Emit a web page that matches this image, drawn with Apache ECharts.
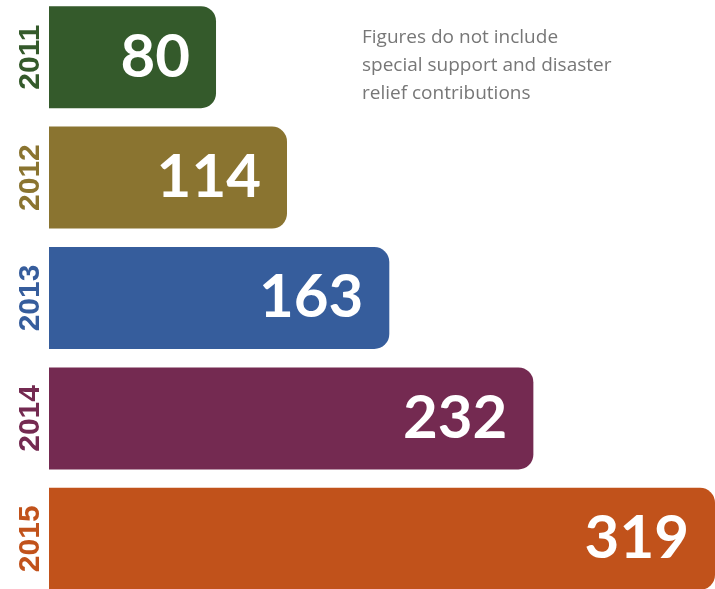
<!DOCTYPE html>
<html>
<head>
<meta charset="utf-8">
<script src="https://cdn.jsdelivr.net/npm/echarts@6/dist/echarts.min.js"></script>
<style>
  html, body { margin: 0; padding: 0; background: #fff; }
  #chart { width: 715px; height: 589px; }
</style>
</head>
<body>
<div id="chart"></div>
<script>
// years and contributions
var years = ['2011', '2012', '2013', '2014', '2015'];
var amounts = [80, 114, 163, 232, 319];
var colors = ['#345a2b', '#8a7430', '#365d9c', '#742a51', '#c1521b'];
var note = 'Figures do not include\nspecial support and disaster\nrelief contributions';

var myChart = echarts.init(document.getElementById('chart'));

var option = {
	backgroundColor : '#ffffff',
	animation : false,
	title : {
		text : note,
		left : 362,
		top : 24,
		padding : 0,
		textStyle : {
			fontFamily : 'Open Sans',
			fontSize : 19,
			fontWeight : 'normal',
			lineHeight : 28,
			color : '#777777'
		}
	},
	grid : {
		left : 49,
		right : 0,
		top : -3,
		bottom : -10,
		outerBoundsMode : 'none'
	},
	xAxis : {
		type : 'value',
		min : 0,
		max : 319,
		show : false
	},
	yAxis : {
		type : 'category',
		data : years,
		inverse : true,
		axisLine : { show : false },
		axisTick : { show : false },
		axisLabel : {
			rotate : 90,
			margin : 3,
			fontFamily : 'Liberation Sans',
			fontWeight : 'bold',
			fontSize : 30,
			color : function(value, index) {
				return colors[index];
			}
		}
	},
	series : [ {
		type : 'bar',
		data : amounts.map(function(v, i) {
			return {
				value : v,
				itemStyle : { color : colors[i] }
			};
		}),
		barWidth : 102,
		itemStyle : {
			borderRadius : [ 0, 15, 15, 0 ]
		},
		label : {
			show : true,
			position : 'insideRight',
			distance : 26,
			color : '#ffffff',
			fontFamily : 'Lato',
			fontWeight : 'bold',
			fontSize : 60
		}
	} ]
};

myChart.setOption(option);
</script>
</body>
</html>
